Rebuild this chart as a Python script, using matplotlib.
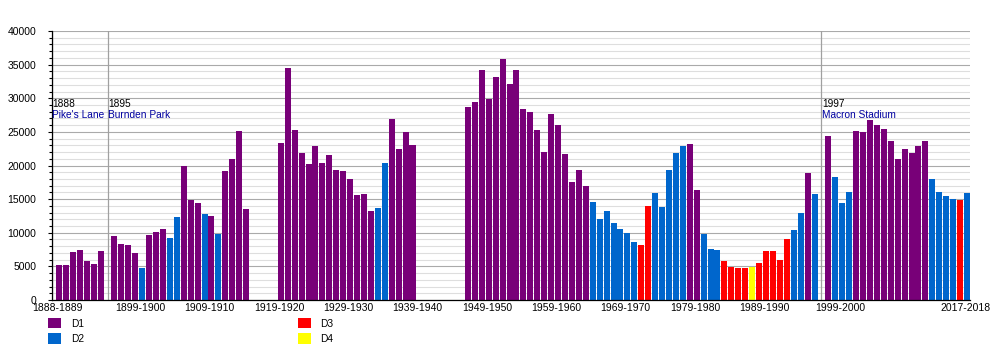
import matplotlib
matplotlib.use("Agg")
import matplotlib.pyplot as plt
from matplotlib.patches import Patch
from matplotlib.ticker import MultipleLocator

plt.rcParams['font.family'] = ['Liberation Sans', 'DejaVu Sans']

# average league attendance per season (start year of the season)
seasons = list(range(1888, 1915)) + list(range(1919, 1939)) + list(range(1946, 2018))

attendance = [
    # 1888-89 .. 1914-15
    5200, 5200, 7100, 7400, 5800, 5350, 7300,
    9500, 8300, 8200, 7000, 4800, 9700, 10100, 10550, 9200, 12300,
    19950, 14900, 14400, 12800, 12500, 9800, 19200, 21000, 25100, 13500,
    # 1919-20 .. 1938-39
    23300, 34500, 25300, 21850, 20200, 22900, 20400, 21600, 19300, 19200,
    18000, 15600, 15750, 13200, 13700, 20400, 26900, 22450, 24950, 23000,
    # 1946-47 .. 1996-97
    28700, 29400, 34200, 29900, 33150, 35800, 32100, 34200, 28400, 27900,
    25300, 22000, 27650, 26000, 21700, 17500, 19300, 16900, 14600, 12000,
    13200, 11450, 10550, 9950, 8600, 8200, 14000, 15900, 13800, 19300,
    21850, 22900, 23200, 16350, 9800, 7600, 7400, 5800, 4900, 4750,
    4750, 4900, 5500, 7300, 7300, 5950, 9050, 10400, 12900, 18900,
    15750,
    # 1997-98 .. 2017-18
    24400, 18300, 14400, 16050, 25100, 24950, 26750, 26000, 25400, 23600,
    20950, 22450, 21850, 22900, 23600, 18000, 16050, 15450, 15000, 14850,
    15900,
]

# league tier for each season, same order as attendance
division = (
    "11111111111" "2" "111" "22" "111" "2" "1" "2" "1111"
    "11111111111111" "22" "1111"
    "111111111111111111" "2222222" "33" "22222" "11" "222" "3333" "4"
    "33333" "22" "1" "2"
    "1" "222" "11111111111" "2222" "3" "2"
)

grounds = [(1888, "Pike's Lane"), (1895, "Burnden Park"), (1997, "Macron Stadium")]

tick_years = [1888, 1899, 1909, 1919, 1929, 1939, 1949, 1959, 1969, 1979,
              1989, 1999, 2017]

colors = {"1": "#780078", "2": "#0066cc", "3": "#ff0000", "4": "#ffff00"}
bar_width = 0.866

# one slot per year, plus an empty slot ahead of each new ground
ground_years = [g[0] for g in grounds]
slot_of = {}
slot = 0
for year in range(seasons[0], seasons[-1] + 1):
    if year in ground_years:
        slot += 1
    slot_of[year] = slot
    slot += 1

fig = plt.figure(figsize=(10, 3.5), dpi=100)
ax = fig.add_axes([0.0515, 0.142857, 0.9185, 0.768571])

xs = [slot_of[y] for y in seasons]
ax.bar(xs, attendance, width=bar_width, align='edge',
       color=[colors[d] for d in division], zorder=2)

ax.set_xlim(0.35, slot_of[seasons[-1]] + bar_width)
ax.set_ylim(0, 40000)

ax.yaxis.set_major_locator(MultipleLocator(5000))
ax.yaxis.set_minor_locator(MultipleLocator(1000))
ax.grid(axis='y', which='major', color='#aaaaaa', lw=0.8, zorder=0)
ax.grid(axis='y', which='minor', color='#dedede', lw=0.8, zorder=0)
ax.set_axisbelow(True)

ax.set_xticks([slot_of[y] + 0.17 for y in tick_years])
ax.set_xticklabels([f"{y}-{y + 1}" for y in tick_years])
ax.tick_params(axis='x', length=0, pad=2, labelsize=7.5)
ax.tick_params(axis='y', which='major', length=3, width=0.8, pad=8, labelsize=7.5)
ax.tick_params(axis='y', which='minor', length=2, width=0.8)

for side in ('top', 'right'):
    ax.spines[side].set_visible(False)
for side in ('left', 'bottom'):
    ax.spines[side].set_linewidth(0.9)

# ground moves
for year, name in grounds:
    xl = slot_of[year] - 1 + bar_width / 2
    ax.axvline(xl, color='#a0a0a0', lw=0.9, zorder=1)
    ax.text(xl + 0.05, 29150, str(year), fontsize=7.3, color='black',
            ha='left', va='center')
    ax.text(xl + 0.05, 27500, name, fontsize=7.3, color='#0000a0',
            ha='left', va='center')

handles = [Patch(facecolor=colors[k], label=f"D{k}") for k in "1234"]
fig.legend(handles=handles, ncol=2, loc='upper left',
           bbox_to_anchor=(0.048, 0.0914), frameon=False, fontsize=7.3,
           borderpad=0, borderaxespad=0, handlelength=1.3, handleheight=1.2,
           handletextpad=0.95, labelspacing=0.45, columnspacing=21.1)

fig.savefig("out.png", dpi=100)
plt.close()
